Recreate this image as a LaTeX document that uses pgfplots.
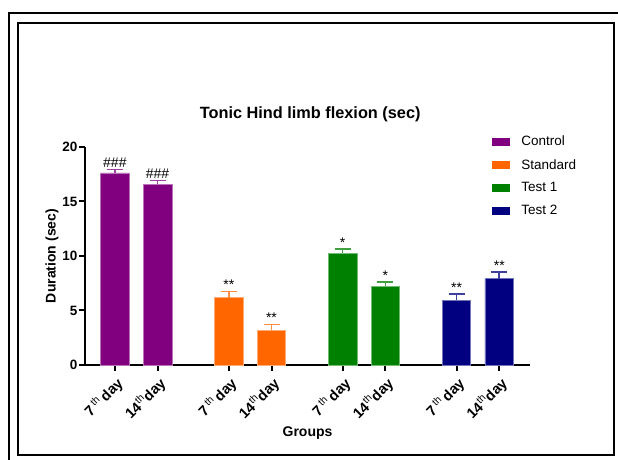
\documentclass[border=0pt]{standalone}
\usepackage{pgfplots}
\pgfplotsset{compat=1.18}
\usepackage{fontspec}
\setmainfont{Liberation Sans}

\definecolor{ctrl}{RGB}{128,0,128}
\definecolor{stdc}{RGB}{255,102,0}
\definecolor{tone}{RGB}{0,128,0}
\definecolor{ttwo}{RGB}{0,0,128}

\newcommand{\hsh}{\#\#\#}
\newcommand{\sev}{7\,\textsuperscript{\mdseries th}\,day}
\newcommand{\fourt}{14\textsuperscript{\mdseries th}day}

% bar style: colour of the group, with its error bar and cap
\pgfplotsset{
  grpbar/.style={ybar, bar width=0.67, bar shift=0pt,
    fill=#1, draw=#1!55!white, line width=0.8pt,
    error bars/.cd, y dir=plus, y explicit, error mark=-,
    error bar style={#1!75!white, line width=1.6pt},
    error mark options={rotate=90, #1!75!white, line width=1.6pt, mark size=8pt}},
}

\begin{document}
\begin{tikzpicture}[x=1pt,y=1pt]
\path[use as bounding box] (0,0) rectangle (618,460);
% double frame
\draw[line width=2pt] (9,0) -- (9,447) -- (618,447);
\draw[line width=2pt] (18,5) rectangle (614,437);

\begin{axis}[
  at={(85pt,95pt)}, anchor=south west,
  scale only axis, width=445pt, height=218pt,
  xmin=-0.7, xmax=9.72, ymin=0, ymax=20,
  axis x line=bottom, axis y line=left,
  axis line style={line width=2.2pt, -},
  tick align=outside, major tick length=6pt,
  tick style={line width=2pt, black},
  /pgf/number format/assume math mode=true,
  xtick={0,1,2.667,3.667,5.333,6.333,8,9},
  xticklabels={\sev,\fourt,\sev,\fourt,\sev,\fourt,\sev,\fourt},
  x tick label style={rotate=45, anchor=north east, inner sep=3pt,
    font=\bfseries\fontsize{14.5}{14}\selectfont},
  ytick={0,5,10,15,20},
  y tick label style={inner sep=1.5pt, font=\bfseries\fontsize{13.5}{14}\selectfont},
  ylabel={Duration (sec)},
  ylabel style={at={(axis description cs:-0.074,0.5)}, anchor=center,
    font=\bfseries\fontsize{14}{14}\selectfont},
  xlabel={Groups},
  xlabel style={at={(axis description cs:0.5,-0.313)}, anchor=center,
    font=\bfseries\fontsize{14}{14}\selectfont},
  title={Tonic Hind limb flexion (sec)},
  title style={at={(axis description cs:0.506,1.124)}, anchor=center,
    font=\bfseries\fontsize{16.3}{16}\selectfont},
  legend style={at={(0.915,1.06)}, anchor=north west, draw=none, fill=none,
    inner sep=0pt, row sep=8pt,
    font=\fontsize{13.5}{14}\selectfont,
    /tikz/every odd column/.append style={column sep=9pt}},
  legend cell align=left,
  legend image code/.code={\fill[#1, draw=none] (0pt,-4pt) rectangle (18pt,4pt);},
  clip=false,
]
\addplot[grpbar=ctrl] table[x=x, y=y, y error=e] {
x y e
0 17.62 0.33
1 16.56 0.38
};
\addlegendentry{Control}
\addplot[grpbar=stdc] table[x=x, y=y, y error=e] {
x y e
2.667 6.19 0.55
3.667 3.19 0.52
};
\addlegendentry{Standard}
\addplot[grpbar=tone] table[x=x, y=y, y error=e] {
x y e
5.333 10.26 0.37
6.333 7.23 0.37
};
\addlegendentry{Test 1}
\addplot[grpbar=ttwo] table[x=x, y=y, y error=e] {
x y e
8 5.94 0.60
9 7.93 0.59
};
\addlegendentry{Test 2}

% significance marks above the error bars
\addplot[forget plot, draw=none, mark=none, nodes near coords,
  point meta=explicit symbolic,
  nodes near coords style={anchor=south, inner sep=1.5pt, black,
    font=\fontsize{14}{14}\selectfont}]
  table[x=x, y=y, meta=t] {
x y t
0 17.95 \hsh
1 16.94 \hsh
2.667 6.74 **
3.667 3.71 **
5.333 10.63 *
6.333 7.60 *
8 6.54 **
9 8.52 **
};
\end{axis}
\end{tikzpicture}
\end{document}
